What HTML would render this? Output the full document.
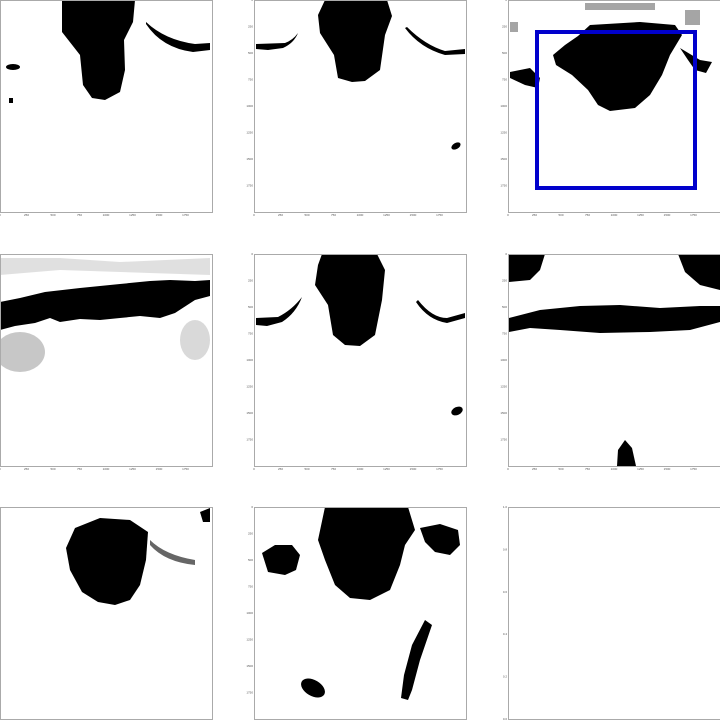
<!DOCTYPE html>
<html><head><meta charset="utf-8">
<style>
html,body{margin:0;padding:0;background:#fff;width:720px;height:720px;overflow:hidden}
svg{display:block}
text{font-family:"Liberation Sans",sans-serif;font-size:3px;fill:#555}
</style></head>
<body>
<svg id="fig" width="720" height="720" viewBox="0 0 720 720" xmlns="http://www.w3.org/2000/svg">
<rect width="720" height="720" fill="#fff"/>
<g id="masks" fill="#000">
 <g>
  <path d="M62,0 L135,0 L133,22 L124,40 L125,70 L120,92 L105,100 L92,98 L83,85 L80,55 L62,32 Z"/>
  <path d="M146,22 Q165,40 195,44 L210,43 L210,50 L193,52 Q162,48 146,24 Z"/>
  <ellipse cx="13" cy="67" rx="7" ry="3"/>
  <rect x="9" y="98" width="4" height="5"/>
 </g>
 <g>
  <path d="M325,0 L387,0 L392,16 L385,35 L380,70 L365,81 L352,82 L338,78 L334,55 L320,33 L318,15 Z"/>
  <path d="M256,44 L285,43 Q293,40 298,33 Q294,43 283,48 L268,50 L256,49 Z"/>
  <path d="M407,27 Q425,45 445,51 L465,49 L465,54 L445,55 Q420,48 405,28 Z"/>
  <ellipse cx="456" cy="146" rx="5" ry="3" transform="rotate(-30 456 146)"/>
 </g>
 <g>
  <path d="M553,55 L565,45 L578,36 L590,25 L640,22 L675,25 L682,35 L670,55 L662,75 L650,95 L635,108 L610,111 L598,105 L588,90 L572,75 L556,65 Z"/>
  <path d="M510,72 L530,68 L540,78 L538,88 L525,85 L510,78 Z"/>
  <path d="M680,48 L700,60 L712,62 L706,73 L695,70 L688,60 Z"/>
  <g opacity="0.35"><rect x="585" y="3" width="70" height="7"/><rect x="510" y="22" width="8" height="10"/><rect x="685" y="10" width="15" height="15"/></g>
 </g>
 <g>
  <path d="M0,302 L20,298 L45,292 L80,288 L120,284 L150,281 L170,280 L195,281 L210,280 L210,296 L195,300 L175,313 L160,318 L140,316 L120,318 L100,320 L80,319 L60,322 L50,318 L35,323 L15,326 L0,330 Z"/>
  <path d="M0,258 L60,258 L120,262 L210,258 L210,275 L120,272 L60,270 L0,275 Z" opacity="0.12"/>
  <ellipse cx="20" cy="352" rx="25" ry="20" opacity="0.22"/>
  <ellipse cx="195" cy="340" rx="15" ry="20" opacity="0.15"/>
 </g>
 <g>
  <path d="M322,254 L377,254 L385,270 L382,300 L375,335 L360,346 L345,345 L333,335 L328,305 L315,285 L318,265 Z"/>
  <path d="M256,318 L278,317 Q292,310 302,297 Q296,313 282,322 L267,326 L256,325 Z"/>
  <path d="M418,300 Q432,318 447,318 L465,313 L465,318 L447,323 Q428,320 416,302 Z"/>
  <ellipse cx="457" cy="411" rx="6" ry="4" transform="rotate(-25 457 411)"/>
 </g>
 <g>
  <path d="M509,254 L545,254 L540,270 L530,280 L509,282 Z"/>
  <path d="M678,254 L720,254 L720,290 L700,285 L685,272 Z"/>
  <path d="M509,318 L540,310 L580,306 L620,305 L660,308 L700,306 L720,306 L720,322 L690,330 L650,332 L600,333 L560,330 L530,328 L509,332 Z"/>
  <path d="M617,466 L618,450 L625,440 L632,448 L636,466 Z"/>
 </g>
 <g>
  <path d="M75,528 L100,518 L130,520 L148,532 L146,560 L140,585 L130,600 L115,605 L98,602 L82,592 L70,570 L66,548 Z"/>
  <path d="M150,540 Q165,555 195,560 L195,565 Q165,562 150,545 Z" opacity="0.6"/>
  <path d="M200,512 L210,508 L210,522 L203,522 Z"/>
 </g>
 <g>
  <path d="M325,507 L408,507 L415,530 L405,545 L400,565 L390,590 L370,600 L350,598 L335,585 L325,560 L318,540 Z"/>
  <path d="M262,553 L275,545 L292,545 L300,555 L296,570 L285,575 L268,572 Z"/>
  <path d="M420,528 L440,524 L458,530 L460,545 L450,555 L435,552 L425,542 Z"/>
  <path d="M425,620 L432,625 L420,660 L412,690 L408,700 L401,698 L404,675 L412,645 Z"/>
  <ellipse cx="313" cy="688" rx="13" ry="8" transform="rotate(30 313 688)"/>
 </g>
</g>
<rect x="537" y="32" width="158" height="156" fill="none" stroke="#0000cc" stroke-width="4"/>
<g id="axes"></g>
</svg>
<script>
const imgTicks = [0,250,500,750,1000,1250,1500,1750];
const imgTickLabels = ["0","250","500","750","1000","1250","1500","1750"];
const emptyTicks = [0.0,0.2,0.4,0.6,0.8,1.0];
const emptyTickLabels = ["0.0","0.2","0.4","0.6","0.8","1.0"];
const imgExtent = 2000;
const panels = [
 [0,0],[254,0],[508,0],
 [0,254],[254,254],[508,254],
 [0,507],[254,507],[508,507]
];
const NS="http://www.w3.org/2000/svg";
const axes=document.getElementById('axes');
function mk(tag,attrs){const e=document.createElementNS(NS,tag);for(const k in attrs)e.setAttribute(k,attrs[k]);return e;}
panels.forEach((p,i)=>{
 const x0=p[0], y0=p[1], w=212, h=212;
 const g=mk('g',{});
 
 
 const frame=mk('rect',{x:x0+0.5,y:y0+0.5,width:w,height:h,fill:'none',stroke:'#aaa','stroke-width':1});
 
 
 g.appendChild(frame);
 if(i===8){
  emptyTicks.forEach((v,j)=>{
   const y=y0+h-(v)*h;
   const t=mk('text',{x:x0-1,y:y+1,'text-anchor':'end'});
   t.textContent=emptyTickLabels[j];
   
   
   g.appendChild(t);
  });
 } else {
  const sx=v=>x0+v/imgExtent*w, sy=v=>y0+v/imgExtent*h;
  imgTicks.forEach((v,j)=>{
   const tx=mk('text',{x:sx(v),y:y0+h+4,'text-anchor':'middle'});
   tx.textContent=imgTickLabels[j];
   
   
   g.appendChild(tx);
   if(i%3!==0){
    const ty=mk('text',{x:x0-1,y:sy(v)+1,'text-anchor':'end'});
    ty.textContent=imgTickLabels[j];
    
    
    g.appendChild(ty);
   }
  });
 }
 axes.appendChild(g);
});
</script>
</body></html>
